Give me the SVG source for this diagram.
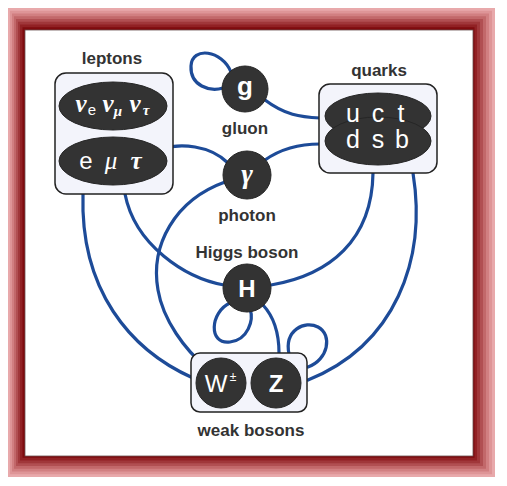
<svg xmlns="http://www.w3.org/2000/svg" width="507" height="486" viewBox="0 0 507 486">
<style>
.lbl{font-family:"Liberation Sans",Arial,sans-serif;font-weight:bold;font-size:17px;fill:#333;text-anchor:middle}
.box{fill:#f3f4fb;stroke:#222;stroke-width:1.5}
.dark{fill:#333;stroke:#262626;stroke-width:1}
.wt{font-family:"Liberation Sans",Arial,sans-serif;fill:#fff;text-anchor:middle}
.gr{font-family:"Liberation Serif","Times New Roman",serif;font-style:italic;fill:#fff;text-anchor:middle}
.edge{fill:none;stroke:#1d4b98;stroke-width:3.2;stroke-linecap:round}
</style>
<rect x="0" y="0" width="507" height="486" fill="#fff"/>
<g id="frame">
<rect x="8" y="8" width="487" height="469" fill="#e8a9ab"/>
<rect x="10" y="10.75" width="482" height="463.5" fill="#de9597"/>
<rect x="12" y="13.5" width="477" height="458" fill="#d17f81"/>
<rect x="14" y="16.25" width="472" height="452.5" fill="#c2686a"/>
<rect x="16" y="19" width="467" height="447" fill="#b14f52"/>
<rect x="18" y="21.75" width="462" height="441.5" fill="#a0373a"/>
<rect x="20" y="24.5" width="457" height="436" fill="#912124"/>
<rect x="22.5" y="27.25" width="452" height="430.5" fill="#7f0b0e"/>
<rect x="25" y="30" width="448" height="426" fill="#fff" stroke="#6a5050" stroke-width="0.8"/>
</g>
<g id="connectors">
<path class="edge" d="M 231,72 C 222,50 192,46 191,66 C 190,86 210,92 223,88"/>
<path class="edge" d="M 265,100 C 285,115 300,117 320,118"/>
<path class="edge" d="M 162,149 C 180,143 210,145 228,163"/>
<path class="edge" d="M 265,160 C 282,148 300,144 320,144"/>
<path class="edge" d="M 225,182 C 175,200 150,245 158,290 C 163,320 185,350 207,368"/>
<path class="edge" d="M 83,194 C 80,290 130,350 193,378"/>
<path class="edge" d="M 125,194 C 135,245 185,278 224,285"/>
<path class="edge" d="M 271,285 C 330,275 372,240 373,173"/>
<path class="edge" d="M 413,173 C 427,260 395,345 308,380"/>
<path class="edge" d="M 230,303 C 210,312 208,345 230,342 C 248,340 254,320 250,309"/>
<path class="edge" d="M 263,305 C 275,318 279,335 279,353"/>
<path class="edge" d="M 289,354 C 284,330 305,320 318,327 C 333,335 328,360 308,367"/>
</g>
<g id="leptons">
<text class="lbl" x="112" y="64">leptons</text>
<rect class="box" x="55" y="73" width="118" height="121" rx="11"/>
<ellipse class="dark" cx="113" cy="106" rx="54" ry="24"/>
<ellipse class="dark" cx="113" cy="161" rx="54" ry="24"/>
<text class="gr" x="81" y="112" font-size="25" font-weight="bold">ν</text>
<text class="wt" x="92" y="115" font-size="15">e</text>
<text class="gr" x="108" y="112" font-size="25" font-weight="bold">ν</text>
<text class="gr" x="118" y="116" font-size="15" font-weight="bold">μ</text>
<text class="gr" x="135" y="112" font-size="25" font-weight="bold">ν</text>
<text class="gr" x="146" y="115" font-size="15" font-weight="bold">τ</text>
<text class="wt" x="86" y="169" font-size="24">e</text>
<text class="gr" x="111" y="169" font-size="25">μ</text>
<text class="gr" x="136" y="169" font-size="25" font-weight="bold">τ</text>
</g>
<g id="quarks">
<text class="lbl" x="379" y="76">quarks</text>
<rect class="box" x="319" y="84" width="118" height="89" rx="11"/>
<ellipse class="dark" cx="378" cy="116" rx="53" ry="23"/>
<ellipse class="dark" cx="378" cy="141" rx="53" ry="24"/>
<text class="wt" x="353" y="122" font-size="25">u</text>
<text class="wt" x="378" y="122" font-size="25">c</text>
<text class="wt" x="401" y="122" font-size="25">t</text>
<text class="wt" x="353" y="148" font-size="25">d</text>
<text class="wt" x="378" y="148" font-size="25">s</text>
<text class="wt" x="402" y="148" font-size="25">b</text>
</g>
<g id="gluon">
<circle class="dark" cx="245" cy="89" r="23"/>
<text class="wt" x="245" y="95" font-size="26" font-weight="bold">g</text>
<text class="lbl" x="245" y="134">gluon</text>
</g>
<g id="photon">
<circle class="dark" cx="247" cy="175" r="24"/>
<text class="gr" x="247" y="183" font-size="28" font-weight="bold">γ</text>
<text class="lbl" x="247" y="221">photon</text>
</g>
<g id="higgs">
<text class="lbl" x="247" y="258">Higgs boson</text>
<circle class="dark" cx="247" cy="288" r="24"/>
<text class="wt" x="247" y="297" font-size="24" font-weight="bold">H</text>
</g>
<g id="weak">
<rect class="box" x="191" y="353" width="116" height="59" rx="9"/>
<circle class="dark" cx="221" cy="383" r="25"/>
<circle class="dark" cx="276" cy="383" r="25"/>
<text class="wt" x="216" y="392" font-size="24">W</text>
<text class="wt" x="233" y="381" font-size="12">±</text>
<text class="wt" x="276" y="392" font-size="24" font-weight="bold">Z</text>
<text class="lbl" x="251" y="436">weak bosons</text>
</g>
</svg>
